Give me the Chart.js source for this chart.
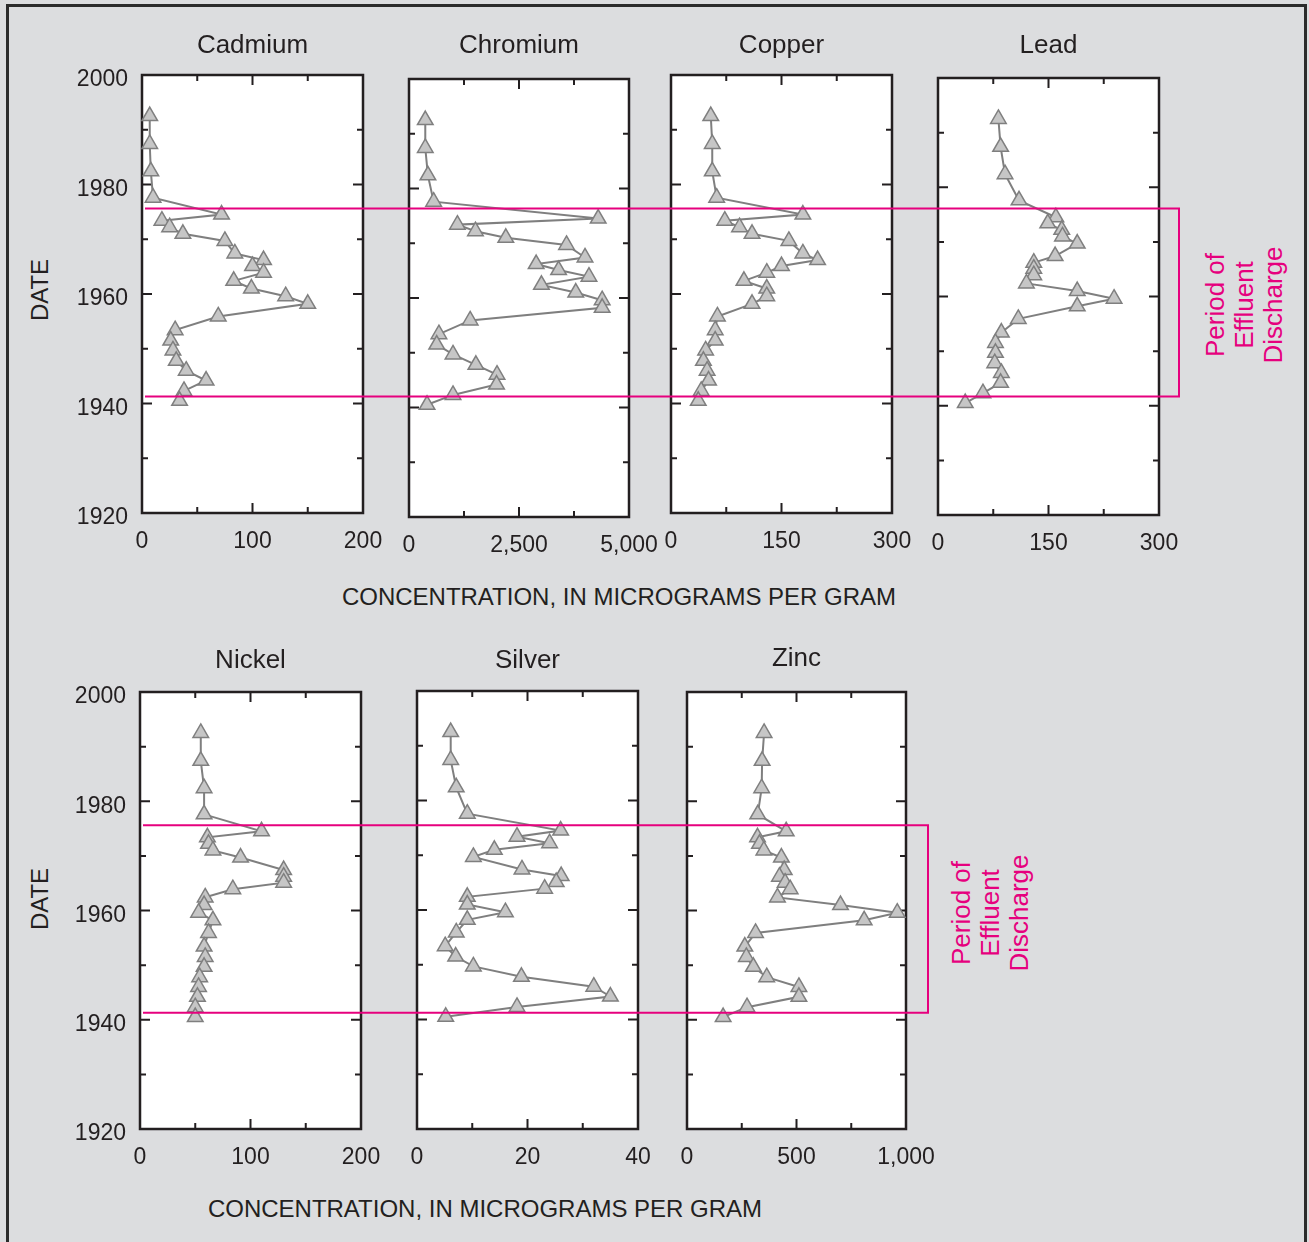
<!DOCTYPE html>
<html>
<head>
<meta charset="utf-8">
<script src="https://cdn.jsdelivr.net/npm/chart.js@4.4.1/dist/chart.umd.min.js"></script>
<style>
  html, body { margin: 0; padding: 0; background: #dcdddf; }
  #fig { position: relative; width: 1309px; height: 1242px; background: #dcdddf; overflow: hidden;
         font-family: "Liberation Sans", Arial, Helvetica, sans-serif; color: #231f20; }
  #frame { position: absolute; left: 6px; top: 4px; width: 1301px; height: 1320px;
           border: 3px solid #2b2b2b; box-sizing: border-box; }
  .txt { position: absolute; white-space: nowrap; transform: translate(-50%, -50%); }
  .rot { transform: translate(-50%, -50%) rotate(-90deg); text-align: center; }
  .axisTitle { font-size: 24px; }
  .period { font-size: 26px; line-height: 29px; color: #e6007e; }
  #overlay { position: absolute; left: 0; top: 0; pointer-events: none; }
</style>
</head>
<body>
<div id="fig">
  <div id="frame"></div>
  <div class="txt rot axisTitle" style="left:40px;top:290px;">DATE</div>
  <div class="txt rot axisTitle" style="left:40px;top:899px;">DATE</div>
  <div class="txt axisTitle" style="left:619px;top:597px;">CONCENTRATION, IN MICROGRAMS PER GRAM</div>
  <div class="txt axisTitle" style="left:485px;top:1209px;">CONCENTRATION, IN MICROGRAMS PER GRAM</div>
  <div class="txt rot period" style="left:1244px;top:305px;">Period of<br>Effluent<br>Discharge</div>
  <div class="txt rot period" style="left:990px;top:913px;">Period of<br>Effluent<br>Discharge</div>
  <canvas id="overlay" width="1309" height="1242"></canvas>
</div>
<script>
// Sediment-core sample dates (year of deposition), top of core first
const dates = [1992.5, 1987.4, 1982.4, 1977.6, 1974.5, 1973.4, 1972.2, 1971.0, 1969.7, 1967.4,
               1966.2, 1965.1, 1963.9, 1962.4, 1961.0, 1959.6, 1958.2, 1955.9, 1953.4, 1951.5,
               1949.7, 1947.8, 1946.0, 1944.2, 1942.3, 1940.5];

// Concentrations, in micrograms per gram
const cadmium  = [7, 7, 8, 10, 72, 18, 25, 37, 75, 84, 110, 100, 110, 83, 99, 130, 150, 69, 30, 26, 28, 31, 40, 58, 38, 34];
const chromium = [370, 370, 430, 560, 4300, 1100, 1510, 2200, 3580, 4000, 2890, 3400, 4090, 3010, 3790, 4390, 4390, 1390, 680, 630, 1000, 1520, 2000, 1990, 1000, 410];
const copper   = [54, 56, 56, 62, 179, 73, 93, 110, 160, 179, 199, 150, 130, 99, 130, 130, 110, 63, 60, 60, 47, 44, 49, 51, 41, 37];
const lead     = [82, 85, 91, 110, 160, 149, 168, 169, 189, 159, 130, 130, 130, 120, 189, 239, 189, 109, 86, 78, 78, 77, 86, 85, 61, 37];
const nickel   = [55, 55, 58, 58, 110, 61, 62, 66, 91, 130, 130, 130, 84, 59, 58, 53, 66, 62, 58, 59, 58, 54, 53, 52, 50, 50];
const silver   = [6.1, 6.1, 7.1, 9.1, 26.0, 18.1, 24.0, 14.0, 10.2, 19.0, 26.1, 25.2, 23.1, 9.1, 9.1, 16.0, 9.1, 7.1, 5.1, 7.0, 10.2, 18.9, 32.0, 35.0, 18.1, 5.2];
const zinc     = [352, 343, 341, 323, 453, 322, 331, 351, 431, 444, 422, 448, 471, 413, 701, 960, 809, 313, 264, 271, 303, 364, 511, 511, 274, 165];

const elementNames = ['Cadmium', 'Chromium', 'Copper', 'Lead', 'Nickel', 'Silver', 'Zinc'];
const elementSeries = [cadmium, chromium, copper, lead, nickel, silver, zinc];
const axisMax = [200, 5000, 300, 300, 200, 40, 1000];

const yearMin = 1920, yearMax = 2000;
const dischargeYears = [1975.6, 1941.3];

// Plot-area boxes of the seven panels (left, top, width, height, title centre y)
const boxes = [
  { l: 142, t: 75,  w: 221, h: 438, ty: 46,  row: 0 },
  { l: 409, t: 79,  w: 220, h: 438, ty: 46,  row: 0 },
  { l: 671, t: 75,  w: 221, h: 438, ty: 46,  row: 0 },
  { l: 938, t: 78,  w: 221, h: 437, ty: 46,  row: 0 },
  { l: 140, t: 692, w: 221, h: 437, ty: 661, row: 1 },
  { l: 417, t: 691, w: 221, h: 438, ty: 661, row: 1 },
  { l: 687, t: 692, w: 219, h: 437, ty: 659, row: 1 }
];

const INK = '#231f20';
Chart.defaults.font.family = '"Liberation Sans", Arial, Helvetica, sans-serif';
Chart.defaults.color = INK;

const fmt = v => v.toLocaleString('en-US');

// White plot area, dark frame and inward ticks on all four sides
const framePlugin = {
  id: 'frameTicks',
  beforeDatasetsDraw(chart) {
    const { ctx, chartArea: a, scales: { x, y } } = chart;
    ctx.save();
    ctx.fillStyle = '#ffffff';
    ctx.fillRect(a.left, a.top, a.right - a.left, a.bottom - a.top);
    ctx.strokeStyle = INK;
    ctx.lineWidth = 2;
    ctx.beginPath();
    x.ticks.forEach((t, i) => {
      const px = x.getPixelForValue(t.value);
      const len = i % 2 === 0 ? 10 : 6;
      ctx.moveTo(px, a.top); ctx.lineTo(px, a.top + len);
      ctx.moveTo(px, a.bottom); ctx.lineTo(px, a.bottom - len);
    });
    y.ticks.forEach(t => {
      const py = y.getPixelForValue(t.value);
      const len = t.value % 20 === 0 ? 10 : 6;
      ctx.moveTo(a.left, py); ctx.lineTo(a.left + len, py);
      ctx.moveTo(a.right, py); ctx.lineTo(a.right - len, py);
    });
    ctx.stroke();
    ctx.lineWidth = 2.5;
    ctx.strokeRect(a.left, a.top, a.right - a.left, a.bottom - a.top);
    ctx.restore();
  }
};

const fig = document.getElementById('fig');
const overlay = document.getElementById('overlay');
const M = 80, TOP = 60, BOTTOM = 60;
const charts = [];

elementSeries.forEach((vals, i) => {
  const b = boxes[i];
  const firstInRow = i === 0 || boxes[i - 1].row !== b.row;
  const cv = document.createElement('canvas');
  const cw = b.w + 2 * M, ch = b.h + TOP + BOTTOM;
  cv.width = cw; cv.height = ch;
  cv.style.cssText = `position:absolute;left:${b.l - M}px;top:${b.t - TOP}px;width:${cw}px;height:${ch}px;`;
  fig.insertBefore(cv, overlay);

  const titleTop = b.ty - b.t + TOP - 15.6;
  const chart = new Chart(cv, {
    type: 'scatter',
    data: {
      datasets: [{
        data: vals.map((v, k) => ({ x: v, y: dates[k] })),
        showLine: true,
        borderColor: '#7f7f7f',
        borderWidth: 2,
        pointStyle: 'triangle',
        pointRadius: 9,
        pointHoverRadius: 9,
        pointBackgroundColor: '#c6c6c6',
        pointBorderColor: '#7f7f7f',
        pointBorderWidth: 1.5,
        clip: false
      }]
    },
    options: {
      responsive: false,
      animation: false,
      events: [],
      layout: { autoPadding: false, padding: { left: 0, right: M, top: 0, bottom: 0 } },
      plugins: {
        legend: { display: false },
        tooltip: { enabled: false },
        title: {
          display: true,
          fullSize: false,          // centred over the plot area only
          text: elementNames[i],
          color: INK,
          font: { size: 26, weight: 'normal' },
          padding: { top: titleTop, bottom: TOP - 31.2 - titleTop }
        }
      },
      scales: {
        x: {
          type: 'linear',
          min: 0,
          max: axisMax[i],
          grid: { display: false, drawTicks: false },
          border: { display: false },
          ticks: {
            stepSize: axisMax[i] / 4,
            autoSkip: false,
            maxRotation: 0,
            padding: 14.6,
            font: { size: 23 },
            color: INK,
            callback: (v, k) => (k % 2 === 0 ? fmt(v) : '')
          },
          afterFit: s => { s.height = BOTTOM; }
        },
        y: {
          type: 'linear',
          min: yearMin,
          max: yearMax,
          grid: { display: false, drawTicks: false },
          border: { display: false },
          ticks: {
            display: firstInRow,
            stepSize: 10,
            autoSkip: false,
            padding: 14,
            labelOffset: 5,
            font: { size: 23 },
            color: INK,
            callback: v => (v % 20 === 0 ? String(v) : '')
          },
          afterFit: s => { s.width = M; }
        }
      }
    },
    plugins: [framePlugin]
  });
  charts.push(chart);
});

// Period of effluent discharge: one box per row, spanning all of its panels
function drawPeriod(rowCharts, rightInset) {
  const ctx = overlay.getContext('2d');
  const first = rowCharts[0], last = rowCharts[rowCharts.length - 1];
  const ys = dischargeYears.map(v => first.canvas.offsetTop + first.scales.y.getPixelForValue(v));
  const x0 = first.canvas.offsetLeft + first.chartArea.left + 3;
  const x1 = last.canvas.offsetLeft + last.chartArea.right + rightInset;
  ctx.save();
  ctx.strokeStyle = '#e6007e';
  ctx.lineWidth = 2;
  ctx.beginPath();
  ctx.moveTo(x0, ys[0]); ctx.lineTo(x1, ys[0]);
  ctx.lineTo(x1, ys[1]); ctx.lineTo(x0, ys[1]);
  ctx.stroke();
  ctx.restore();
}
drawPeriod(charts.slice(0, 4), 20);
drawPeriod(charts.slice(4), 22);
</script>
</body>
</html>
